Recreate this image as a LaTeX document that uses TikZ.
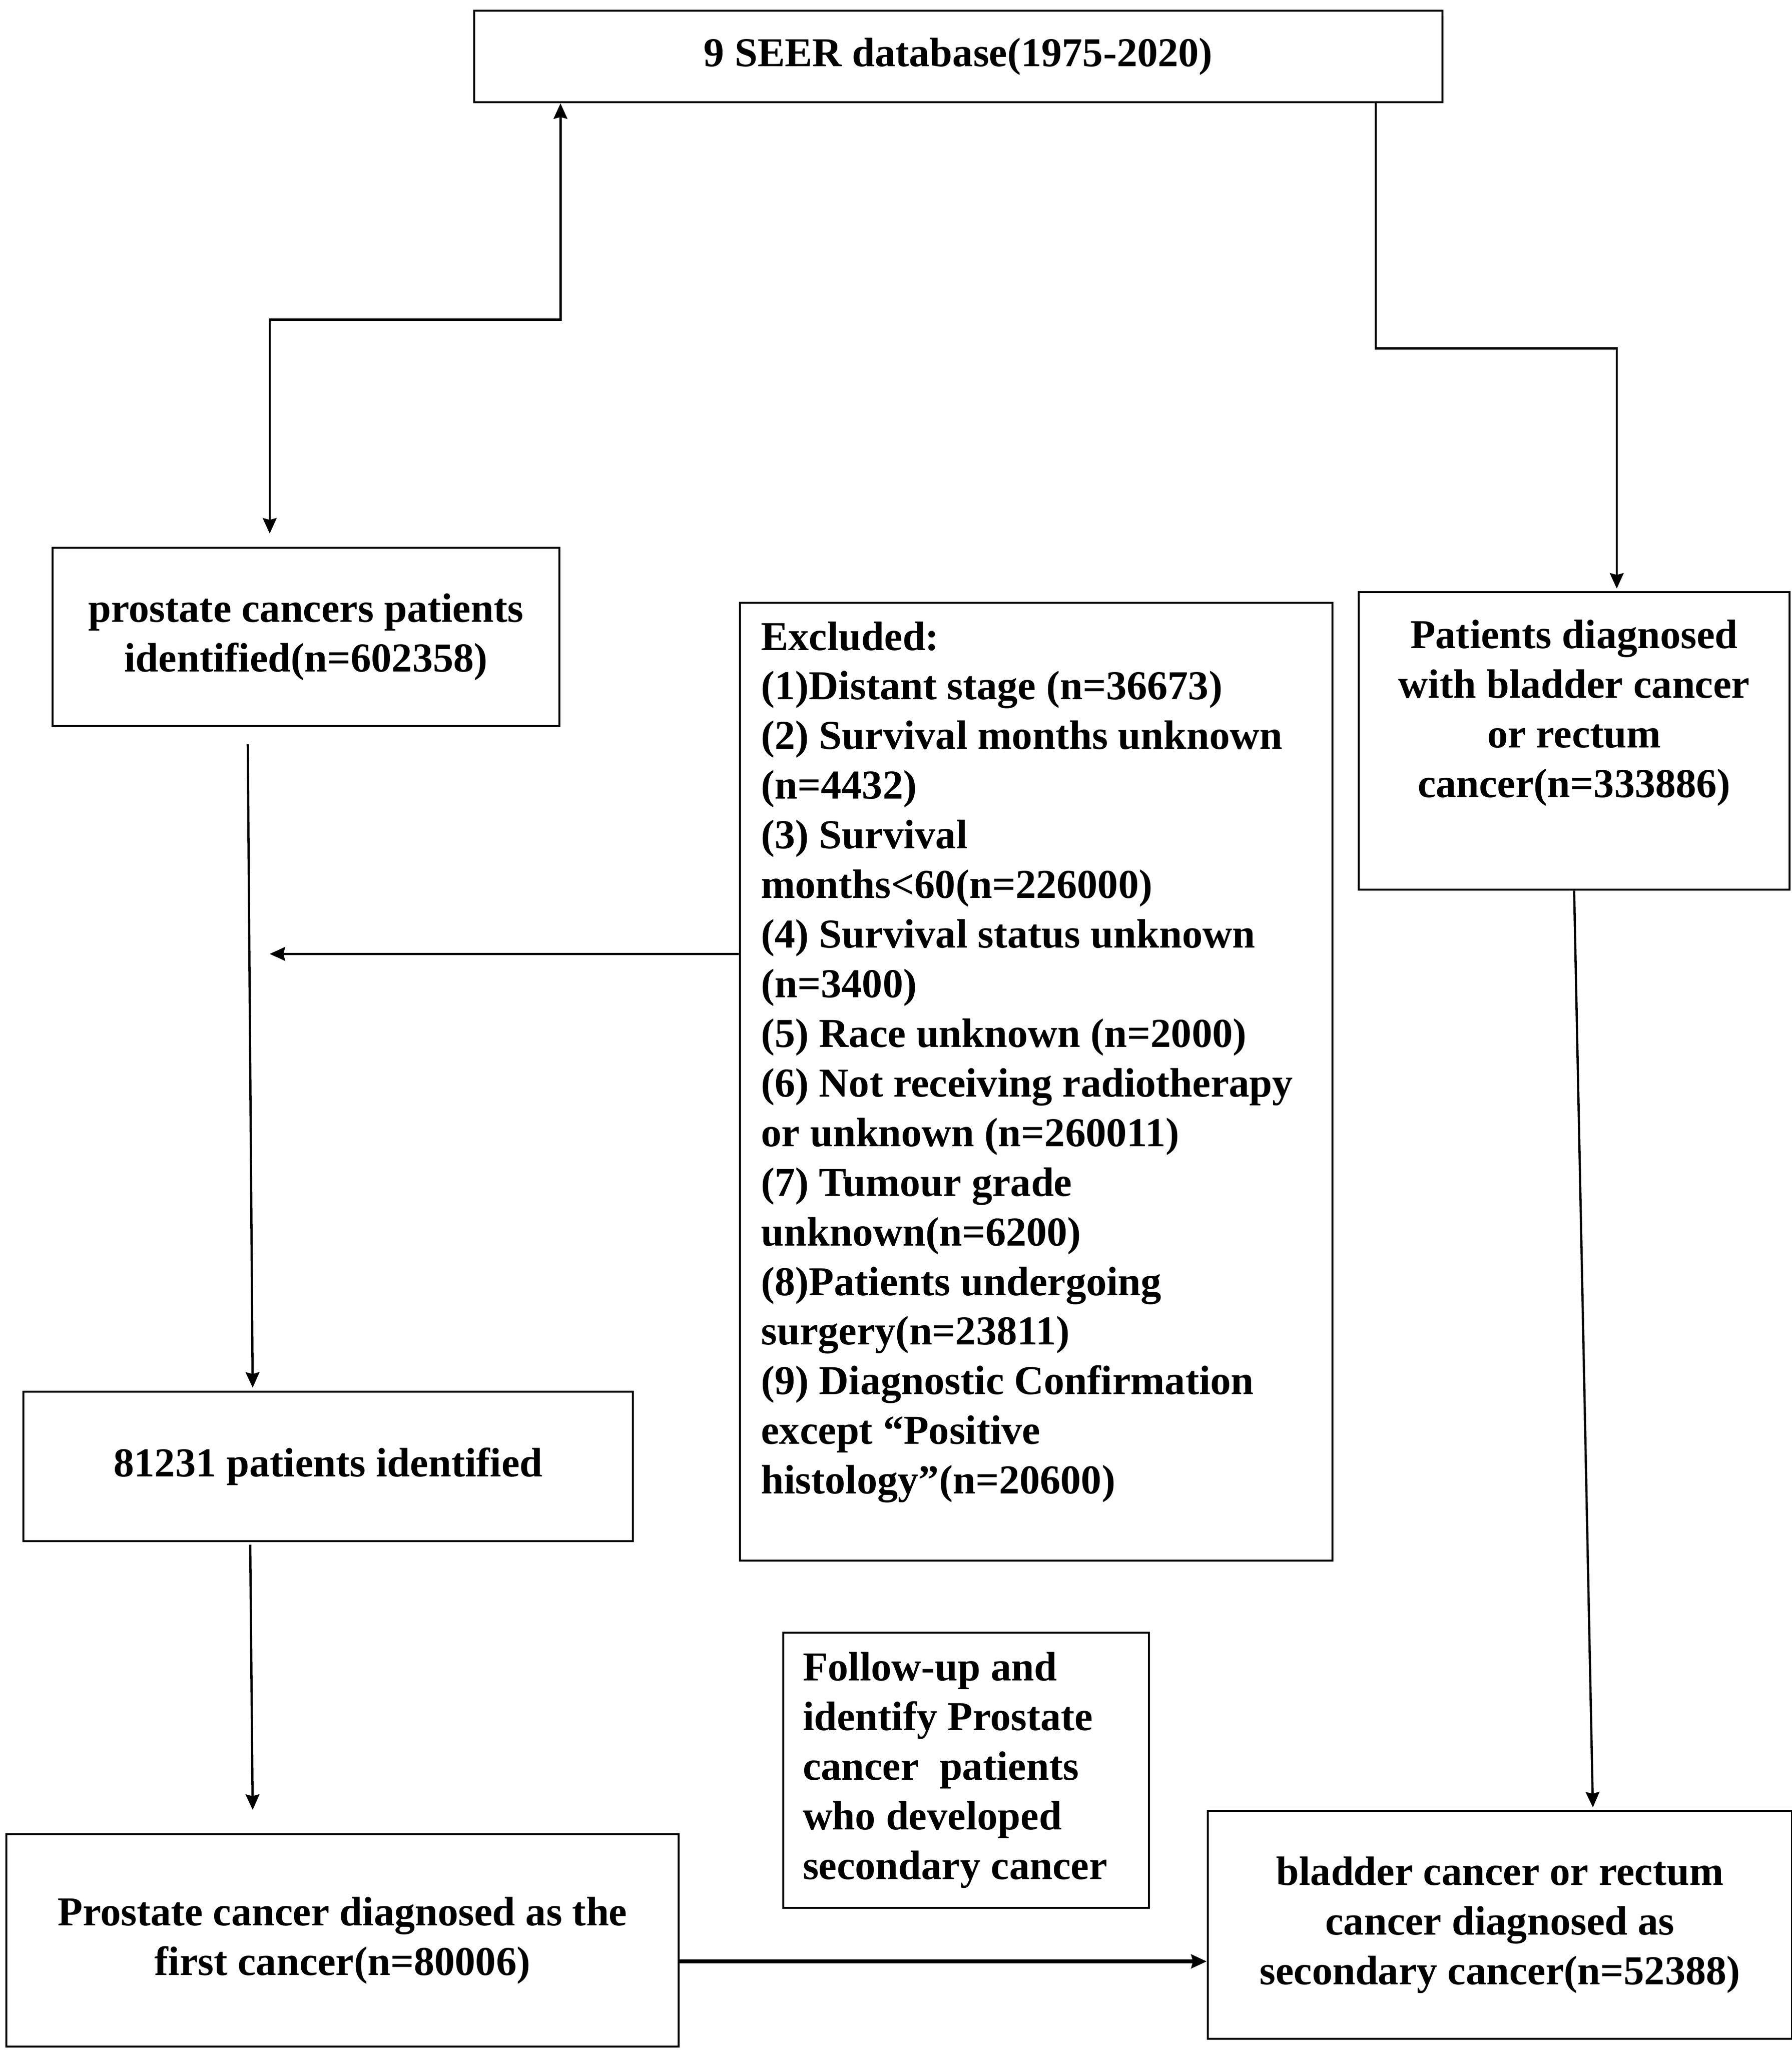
\documentclass[tikz,border=0pt]{standalone}
\usepackage{fontspec}
\setmainfont{Liberation Serif}
\usetikzlibrary{arrows.meta,positioning}

\begin{document}
\begin{tikzpicture}[block/.style={rectangle, draw, line width=1.3pt, align=center, inner sep=2mm},
  font=\fontsize{24}{29}\selectfont\bfseries,
  >={Stealth[length=9pt, width=8pt, inset=1pt]}, line width=1.3pt]
  \useasboundingbox (0,0) rectangle (36.81,-42.10);
  \node[block, minimum width=19.89cm, minimum height=1.88cm] (seer) at (19.685,-1.16) {9 SEER database(1975-2020)};
  \node[block, minimum width=10.41cm, minimum height=3.66cm] (prost) at (6.285,-13.08) {prostate cancers patients\\identified(n=602358)};
  \node[block, minimum width=8.85cm, minimum height=6.11cm] (bladder) at (32.335,-15.215) {Patients diagnosed\\with bladder cancer\\or rectum\\cancer(n=333886)\\[0.3cm]\mbox{}};
  \node[block, minimum width=12.17cm, minimum height=19.67cm, inner xsep=4mm, inner ysep=3.5mm] (excl) at (21.285,-22.215) {%
    \begin{minipage}[t][18.9cm][t]{11.3cm}\raggedright
    Excluded:\\
    (1)Distant stage (n=36673)\\
    (2) Survival months unknown\\
    (n=4432)\\
    (3) Survival\\
    months<60(n=226000)\\
    (4) Survival status unknown\\
    (n=3400)\\
    (5) Race unknown (n=2000)\\
    (6) Not receiving radiotherapy\\
    or unknown (n=260011)\\
    (7) Tumour grade\\
    unknown(n=6200)\\
    (8)Patients undergoing\\
    surgery(n=23811)\\
    (9) Diagnostic Confirmation\\
    except “Positive\\
    histology”(n=20600)
    \end{minipage}};
  \node[block, minimum width=12.52cm, minimum height=3.07cm] (ident) at (6.74,-30.115) {81231 patients identified};
  \node[block, align=flush left, text width=6.71cm, inner xsep=4mm, minimum height=5.65cm] (follow) at (19.845,-36.355) {Follow-up and\\identify Prostate\\cancer~ patients\\who developed\\secondary cancer};
  \node[block, minimum width=13.81cm, minimum height=4.36cm] (first) at (7.035,-39.85) {Prostate cancer diagnosed as the\\first cancer(n=80006)};
  \node[block, minimum width=12.00cm, minimum height=4.68cm] (second) at (30.81,-39.53) {bladder cancer or rectum\\cancer diagnosed as\\secondary cancer(n=52388)};
  \coordinate (cut) at (5.54,-19.59);

  \draw[<->, shorten >=0.27cm] (seer.south -| prost.east) -- ++(0,-4.44) -| ([xshift=-0.745cm]prost.north);
  \draw[->, shorten >=0.05cm] ([xshift=8.575cm]seer.south) -- ++(0,-5.03) -| ([xshift=0.875cm]bladder.north);
  \draw[->] ([xshift=-1.195cm, yshift=-0.35cm]prost.south) -- ([xshift=-1.55cm, yshift=0.06cm]ident.north);
  \draw[->] ([yshift=2.625cm]excl.west) -- (cut);
  \draw[->] ([xshift=-1.6cm, yshift=-0.05cm]ident.south) -- ([xshift=-1.845cm, yshift=0.48cm]first.north);
  \draw[->, line width=2.5pt] ([yshift=-0.43cm]first.east) -- ([yshift=-0.43cm]first.east -| second.west);
  \draw[->] (bladder.south) -- ([xshift=1.91cm, yshift=0.05cm]second.north);
\end{tikzpicture}
\end{document}
